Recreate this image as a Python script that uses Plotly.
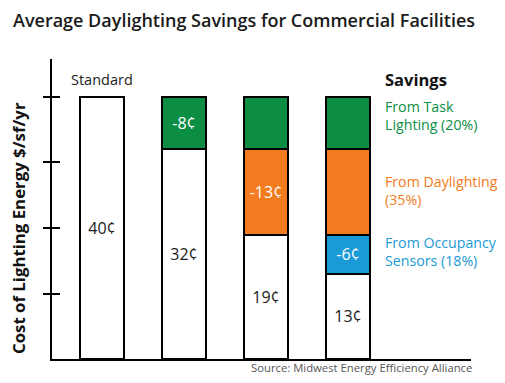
import plotly.graph_objects as go

categories = [0, 1, 2, 3]
base_cost = [40, 32, 19, 13]
occupancy_savings = [None, None, None, 6]
daylight_savings = [None, None, 13, 13]
task_savings = [None, 8, 8, 8]
base_text = ["40¢", "32¢", "19¢", "13¢"]
occupancy_text = ["", "", "", "-6¢"]
daylight_text = ["", "", "-13¢", ""]
task_text = ["", "-8¢", "", ""]
y_ticks = [10, 20, 30, 40]

FONT = "Open Sans"
GREEN = "#0b8e44"
ORANGE = "#f37b20"
BLUE = "#1a9ad6"

# page offset from default body margin
OFF = 8
PL, PR, PT, PB = 52, 471, 59, 359  # plot area in page pixels
W, H = 505 - 2 * OFF, 383 - 2 * OFF

fig = go.Figure()

def add(vals, color, text, tcolor):
    fig.add_trace(go.Bar(
        x=categories, y=vals, width=0.537,
        marker=dict(color=color, line=dict(color="black", width=2)),
        text=text, textposition="inside", insidetextanchor="middle",
        textangle=0, constraintext="none",
        textfont=dict(family=FONT, size=16, color=tcolor),
        showlegend=False, hoverinfo="skip",
    ))

add(base_cost, "white", base_text, "#1a1a1a")
add(occupancy_savings, BLUE, occupancy_text, "white")
add(daylight_savings, ORANGE, daylight_text, "white")
add(task_savings, GREEN, task_text, "white")

fig.update_layout(
    barmode="stack",
    width=W, height=H,
    margin=dict(l=PL - OFF, r=W - (PR - OFF), t=PT - OFF, b=H - (PB - OFF), autoexpand=False),
    paper_bgcolor="white", plot_bgcolor="white",
    font=dict(family=FONT, color="#1a1a1a"),
    xaxis=dict(range=[-0.61, 4.5], showline=True, linecolor="black", linewidth=2,
               showticklabels=False, ticks="", showgrid=False, zeroline=False),
    yaxis=dict(range=[0, 45.8], showline=True, linecolor="black", linewidth=2,
               tickvals=y_ticks, ticks="outside", ticklen=7, tickwidth=2, tickcolor="black",
               showticklabels=False, showgrid=False, zeroline=False),
    yaxis2=dict(range=[0, 45.8], overlaying="y", side="left", anchor="x",
                tickvals=y_ticks, ticks="inside", ticklen=8, tickwidth=2, tickcolor="black",
                showticklabels=False, showgrid=False, zeroline=False, showline=False),
)
fig.add_trace(go.Scatter(x=[None], y=[None], yaxis="y2", showlegend=False, hoverinfo="skip"))

def xpx(p):
    return (p - PL) / (PR - PL)

def ypx(p):
    return (PB - p) / (PB - PT)

fig.add_annotation(text="Average Daylighting Savings for Commercial Facilities",
                   xref="paper", yref="paper", x=xpx(11), y=ypx(20), xanchor="left", yanchor="middle",
                   showarrow=False, font=dict(family=FONT, size=18, color="#1a1a1a", weight=600))
fig.add_annotation(text="Standard", x=0, y=40, yshift=6, xanchor="center", yanchor="bottom",
                   showarrow=False, font=dict(family=FONT, size=14.5, color="#222"))
fig.add_annotation(text="Cost of Lighting Energy $/sf/yr", textangle=-90,
                   xref="paper", yref="paper", x=xpx(18), y=ypx(228), xanchor="center", yanchor="middle",
                   showarrow=False, font=dict(family=FONT, size=16.8, color="#111", weight=700))

lx = xpx(383)
fig.add_annotation(text="Savings", xref="paper", yref="paper", x=lx, y=ypx(80),
                   xanchor="left", yanchor="middle", showarrow=False,
                   font=dict(family=FONT, size=16.5, color="#111", weight=700))
legend_items = [("From Task<br>Lighting (20%)", GREEN, 116),
                ("From Daylighting<br>(35%)", ORANGE, 191),
                ("From Occupancy<br>Sensors (18%)", BLUE, 251)]
for txt, col, py in legend_items:
    fig.add_annotation(text=txt, xref="paper", yref="paper", x=lx, y=ypx(py),
                       xanchor="left", yanchor="middle", align="left", showarrow=False,
                       font=dict(family=FONT, size=14.2, color=col))

fig.add_annotation(text="Source: Midwest Energy Efficiency Alliance", xref="paper", yref="paper",
                   x=xpx(474), y=ypx(367), xanchor="right", yanchor="middle", showarrow=False,
                   font=dict(family=FONT, size=11.3, color="#555"))

fig.write_html("out.html")
